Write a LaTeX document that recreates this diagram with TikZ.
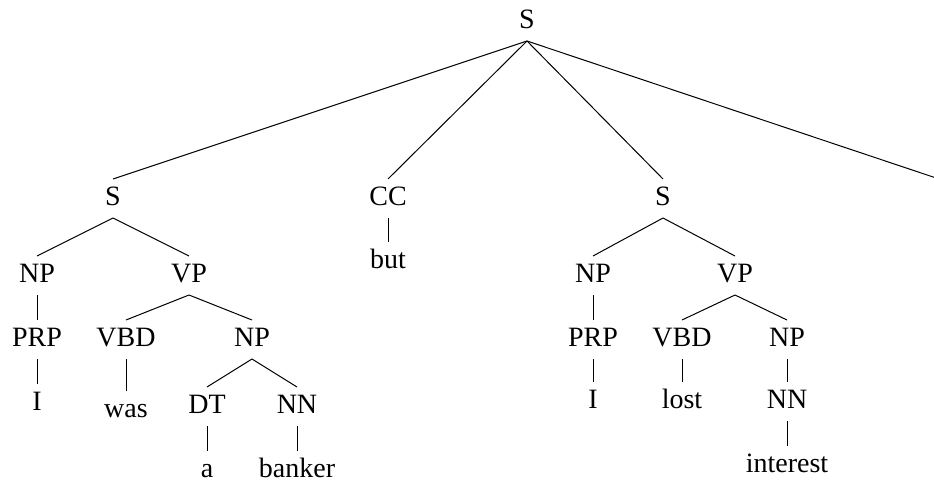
\documentclass[tikz,border=0pt]{standalone}
\usepackage{fontspec}
\setmainfont{Liberation Serif}
\begin{document}
\begin{tikzpicture}[x=1pt,y=-1pt,
  lbl/.style={anchor=base,inner xsep=0pt,inner ysep=7pt,outer sep=0pt,
    text height=19pt,text depth=6pt,font=\fontsize{28}{34}\selectfont},
  edge/.style={draw=black,line width=1pt}]
\useasboundingbox (0,0) rectangle (934,482);
% root
\node[lbl] (S0) at (527,28) {S};
% level 1
\node[lbl] (S1) at (113,205) {S};
\node[lbl] (CC) at (388,205) {CC};
\node[lbl] (S2) at (663,205) {S};
\coordinate (R) at (934,177.3);
% level 2
\node[lbl] (NP1) at (37,282) {NP};
\node[lbl] (VP1) at (189,282) {VP};
\node[lbl] (but) at (388,268) {but};
\node[lbl] (NP2) at (593,282) {NP};
\node[lbl] (VP2) at (735,282) {VP};
% level 3
\node[lbl] (PRP1) at (37,346) {PRP};
\node[lbl] (VBD1) at (126,346) {VBD};
\node[lbl] (NP3) at (252,346) {NP};
\node[lbl] (PRP2) at (593,346) {PRP};
\node[lbl] (VBD2) at (682,346) {VBD};
\node[lbl] (NP4) at (787,346) {NP};
% level 4
\node[lbl] (I1) at (37,410) {I};
\node[lbl] (was) at (126,417) {was};
\node[lbl] (DT) at (207,413) {DT};
\node[lbl] (NN1) at (297,413) {NN};
\node[lbl] (I2) at (593,408) {I};
\node[lbl] (lost) at (682,408) {lost};
\node[lbl] (NN2) at (787,408) {NN};
% level 5
\node[lbl] (a) at (207,477) {a};
\node[lbl] (banker) at (297,477) {banker};
\node[lbl] (interest) at (787,472) {interest};
% edges
\draw[edge] (S0.south) -- (S1.north);
\draw[edge] (S0.south) -- (CC.north);
\draw[edge] (S0.south) -- (S2.north);
\draw[edge] (S0.south) -- (R);
\draw[edge] (S1.south) -- (NP1.north);
\draw[edge] (S1.south) -- (VP1.north);
\draw[edge] (CC.south) -- (but.north);
\draw[edge] (S2.south) -- (NP2.north);
\draw[edge] (S2.south) -- (VP2.north);
\draw[edge] (NP1.south) -- (PRP1.north);
\draw[edge] (VP1.south) -- (VBD1.north);
\draw[edge] (VP1.south) -- (NP3.north);
\draw[edge] (NP2.south) -- (PRP2.north);
\draw[edge] (VP2.south) -- (VBD2.north);
\draw[edge] (VP2.south) -- (NP4.north);
\draw[edge] (PRP1.south) -- (I1.north);
\draw[edge] (VBD1.south) -- (was.north);
\draw[edge] (NP3.south) -- (DT.north);
\draw[edge] (NP3.south) -- (NN1.north);
\draw[edge] (PRP2.south) -- (I2.north);
\draw[edge] (VBD2.south) -- (lost.north);
\draw[edge] (NP4.south) -- (NN2.north);
\draw[edge] (DT.south) -- (a.north);
\draw[edge] (NN1.south) -- (banker.north);
\draw[edge] (NN2.south) -- (interest.north);
\end{tikzpicture}
\end{document}
